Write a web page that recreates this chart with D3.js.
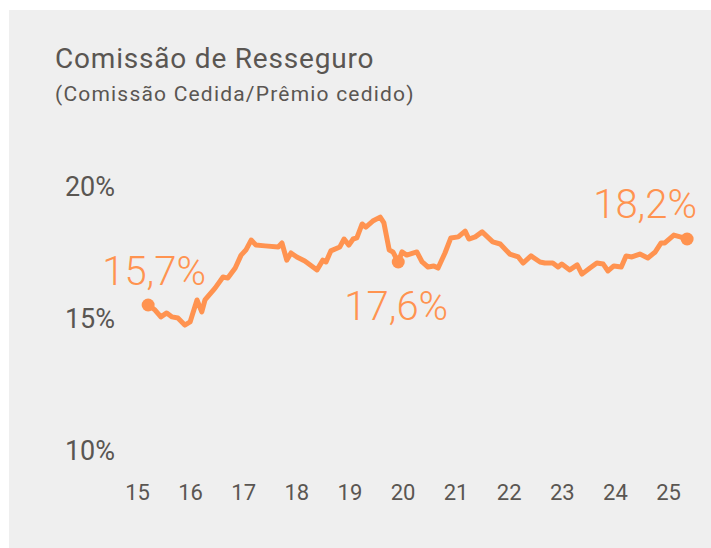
<!DOCTYPE html>
<html>
<head>
<meta charset="utf-8">
<script src="https://cdn.jsdelivr.net/npm/d3@7"></script>
<style>
  body { margin: 0; background: #fff; }
  text { font-family: Roboto, "Open Sans", sans-serif; }
</style>
</head>
<body>
<div id="chart"></div>
<script>
// Comissão de Resseguro - series (year as decimal, value in %)
const dates = [15.21, 15.34, 15.45, 15.56, 15.66, 15.77, 15.90, 16.00, 16.13, 16.22,
    16.28, 16.47, 16.62, 16.71, 16.85, 16.96, 17.05, 17.15, 17.24, 17.41,
    17.66, 17.73, 17.82, 17.90, 18.01, 18.16, 18.39, 18.50, 18.56, 18.65,
    18.82, 18.90, 18.99, 19.07, 19.14, 19.24, 19.31, 19.44, 19.58, 19.65,
    19.75, 19.82, 19.92, 19.99, 20.08, 20.27, 20.37, 20.48, 20.59, 20.67,
    20.80, 20.91, 21.05, 21.18, 21.25, 21.37, 21.50, 21.70, 21.84, 22.02,
    22.18, 22.27, 22.42, 22.59, 22.68, 22.83, 22.93, 23.00, 23.15, 23.29,
    23.38, 23.53, 23.66, 23.78, 23.87, 23.98, 24.12, 24.21, 24.32, 24.47,
    24.62, 24.76, 24.87, 24.94, 25.11, 25.23, 25.36];
const values = [15.53, 15.34, 15.08, 15.23, 15.08, 15.04, 14.77, 14.89, 15.72, 15.27,
    15.72, 16.17, 16.59, 16.55, 16.93, 17.42, 17.61, 17.99, 17.80, 17.77,
    17.73, 17.88, 17.23, 17.50, 17.35, 17.20, 16.86, 17.23, 17.16, 17.58,
    17.73, 18.03, 17.80, 18.03, 18.07, 18.60, 18.48, 18.71, 18.86, 18.64,
    17.61, 17.54, 17.16, 17.54, 17.42, 17.54, 17.16, 16.97, 17.01, 16.93,
    17.50, 18.07, 18.11, 18.33, 18.03, 18.11, 18.30, 17.92, 17.84, 17.46,
    17.35, 17.12, 17.39, 17.16, 17.12, 17.12, 16.97, 17.08, 16.86, 17.05,
    16.70, 16.93, 17.12, 17.08, 16.82, 17.01, 16.97, 17.39, 17.35, 17.46,
    17.31, 17.54, 17.88, 17.88, 18.18, 18.11, 18.03];

const yearTicks = [15, 16, 17, 18, 19, 20, 21, 22, 23, 24, 25];
const pctTicks = [10, 15, 20];

// highlighted points: index into the series and the label shown
const highlightIdx = [0, 42, 86];
const highlightLabels = ["15,7%", "17,6%", "18,2%"];

const W = 711, H = 548;
const orange = "#ff9350";
const grey = "#5a5652";

const svg = d3.select("#chart").append("svg")
    .attr("width", W)
    .attr("height", H);

svg.append("rect")
    .attr("x", 9).attr("y", 10)
    .attr("width", W - 9).attr("height", H - 10)
    .attr("fill", "#efefef");

svg.append("text")
    .attr("x", 55).attr("y", 68)
    .attr("fill", grey)
    .style("font-size", "28px")
    .style("letter-spacing", "0.8px")
    .text("Comissão de Resseguro");

svg.append("text")
    .attr("x", 55).attr("y", 101)
    .attr("fill", grey)
    .style("font-size", "21px")
    .style("letter-spacing", "1.2px")
    .text("(Comissão Cedida/Prêmio cedido)");

const x = d3.scaleLinear().domain([15, 25]).range([137, 668]);
const y = d3.scaleLinear().domain([10, 20]).range([451, 187]);

// y axis labels
const yAxis = svg.append("g")
    .attr("transform", "translate(115,0)")
    .call(d3.axisLeft(y).tickValues(pctTicks).tickSize(0).tickPadding(0).tickFormat(d => d + "%"));
yAxis.select(".domain").remove();
yAxis.selectAll("text")
    .attr("fill", grey)
    .style("font-size", "27px")
    .style("font-family", "Roboto, sans-serif");

// x axis labels
const xAxis = svg.append("g")
    .attr("transform", "translate(0,484)")
    .call(d3.axisBottom(x).tickValues(yearTicks).tickSize(0).tickPadding(0).tickFormat(d => d));
xAxis.select(".domain").remove();
xAxis.selectAll("text")
    .attr("fill", grey)
    .style("font-size", "22px")
    .style("font-family", "Roboto, sans-serif");

const data = dates.map((d, i) => ({ t: d, v: values[i] }));

const line = d3.line().x(d => x(d.t)).y(d => y(d.v));

svg.append("path")
    .datum(data)
    .attr("fill", "none")
    .attr("stroke", orange)
    .attr("stroke-width", 5)
    .attr("stroke-linejoin", "round")
    .attr("stroke-linecap", "round")
    .attr("d", line);

svg.selectAll(".dot")
    .data(highlightIdx)
    .enter().append("circle")
    .attr("class", "dot")
    .attr("cx", i => x(data[i].t))
    .attr("cy", i => y(data[i].v))
    .attr("r", 6.5)
    .attr("fill", orange);

// label offsets relative to the highlighted point
const labelOffsets = [[6, -20], [-2, 58], [-42, -21]];
svg.selectAll(".hl")
    .data(highlightIdx)
    .enter().append("text")
    .attr("class", "hl")
    .attr("x", (i, k) => x(data[i].t) + labelOffsets[k][0])
    .attr("y", (i, k) => y(data[i].v) + labelOffsets[k][1])
    .attr("text-anchor", "middle")
    .attr("fill", orange)
    .style("font-size", "40px")
    .style("font-weight", 300)
    .text((i, k) => highlightLabels[k]);
</script>
</body>
</html>
